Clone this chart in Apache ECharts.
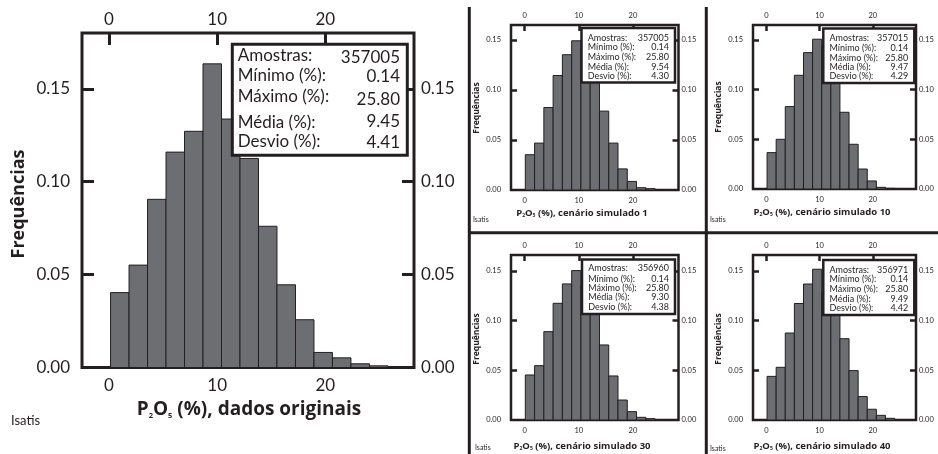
<!DOCTYPE html>
<html>
<head>
<meta charset="utf-8">
<script src="https://cdn.jsdelivr.net/npm/echarts@6/dist/echarts.min.js"></script>
<style>
html,body{margin:0;padding:0;background:#fff;}
#chart{width:938px;height:454px;}
</style>
</head>
<body>
<div id="chart"></div>
<script>
// ---------- DATA ----------
const binEdges = [0.14, 1.85, 3.56, 5.27, 6.98, 8.69, 10.40, 12.11, 13.82, 15.53, 17.24, 18.95, 20.66, 22.37, 24.09, 25.80];
const freqOriginal = [0.0403, 0.0551, 0.0905, 0.1159, 0.1271, 0.1634, 0.1337, 0.1125, 0.0760, 0.0445, 0.0257, 0.0081, 0.0052, 0.0020, 0.0009];
const freqSim1     = [0.0353, 0.0469, 0.0825, 0.1145, 0.1353, 0.1492, 0.1430, 0.1310, 0.0789, 0.0469, 0.0211, 0.0086, 0.0023, 0.0013, 0.0005];
const freqSim10    = [0.0366, 0.0500, 0.0829, 0.1144, 0.1372, 0.1507, 0.1440, 0.1310, 0.0772, 0.0450, 0.0201, 0.0081, 0.0017, 0.0007, 0.0003];
const freqSim30    = [0.0453, 0.0547, 0.0889, 0.1174, 0.1369, 0.1503, 0.1350, 0.1190, 0.0755, 0.0443, 0.0201, 0.0084, 0.0027, 0.0013, 0.0004];
const freqSim40    = [0.0439, 0.0530, 0.0875, 0.1172, 0.1368, 0.1517, 0.1280, 0.1100, 0.0818, 0.0497, 0.0236, 0.0108, 0.0047, 0.0017, 0.0003];
const xTickValues = [0, 10, 20];
const yLabelValues = [0, 0.05, 0.10, 0.15];
const yTickValues = [0.05, 0.10, 0.15];
const statLabels = ['Amostras:', 'Mínimo (%):', 'Máximo (%):', 'Média (%):', 'Desvio (%):'];
const statsOriginal = ['357005', '0.14', '25.80', '9.45', '4.41'];
const statsSim1     = ['357005', '0.14', '25.80', '9.54', '4.30'];
const statsSim10    = ['357015', '0.14', '25.80', '9.47', '4.29'];
const statsSim30    = ['356960', '0.14', '25.80', '9.30', '4.38'];
const statsSim40    = ['356971', '0.14', '25.80', '9.49', '4.42'];
const xTitleSuffixes = [' (%), dados originais', ' (%), cenário simulado 1', ' (%), cenário simulado 10', ' (%), cenário simulado 30', ' (%), cenário simulado 40'];
const yTitle = 'Frequências';
const footer = 'Isatis';

// ---------- LAYOUT ----------
const INK = '#231f20';
const BAR = '#6d6e71';
const FONT = 'Lato, "Open Sans", sans-serif';
const BOLDFONT = '"Open Sans", Lato, sans-serif';

const big = {fs:17, border:3, tick:12, mL:12, mR:7, mT:5, mB:10, boxFs:17, boxBorder:3, titleFs:19, subFs:7.5, freqFs:18, isFs:13};
const small = {fs:7.5, border:2.5, tick:6, mL:10, mR:3, mT:5, mB:7, boxFs:9, boxBorder:2.5, titleFs:9.5, subFs:5, freqFs:8.5, isFs:7};

const panels = [
  {freq:freqOriginal, stats:statsOriginal, s:big, grid:{left:82, top:33, width:332, height:334.5}, xMax:28.2, yMax:0.18,
   box:{x:232.3, y:44.3, w:175, h:111, lx:5.4, rx:7.3, ly:[11.5,31.7,52.7,78.2,97.7], vy:[13.7,32.2,55.2,77.4,98.2]},
   title:[249,410], isatis:[11,421], freqPos:[19,204]},
  {freq:freqSim1, stats:statsSim1, s:small, grid:{left:511, top:25, width:167.5, height:165}, xMax:28.4, yMax:0.165,
   box:{x:581.5, y:28, w:93.5, h:54.5, lx:6.2, rx:6, ly:[9.7,19.3,29.3,38.7,48], vy:[9.7,19.3,29.3,38.7,48]},
   title:[582,213], isatis:[473,220], freqPos:[477,108]},
  {freq:freqSim10, stats:statsSim10, s:small, grid:{left:753, top:25, width:163, height:164}, xMax:28.1, yMax:0.165,
   box:{x:823.3, y:28.5, w:91, h:54.5, lx:6.2, rx:6, ly:[9.7,19.3,29.3,38.7,48], vy:[9.7,19.3,29.3,38.7,48]},
   title:[822,212], isatis:[710,220], freqPos:[718.5,107]},
  {freq:freqSim30, stats:statsSim30, s:small, grid:{left:511, top:255, width:167.5, height:165}, xMax:28.4, yMax:0.166,
   box:{x:582, y:259.5, w:93, h:54.5, lx:6.2, rx:6, ly:[8.7,19.3,28.8,38,47.8], vy:[8.7,19.3,28.8,38,47.8]},
   title:[582,446], isatis:[475,448], freqPos:[477,339]},
  {freq:freqSim40, stats:statsSim40, s:small, grid:{left:753, top:255, width:163, height:165}, xMax:28.1, yMax:0.166,
   box:{x:823.3, y:260, w:91, h:55, lx:6.2, rx:6, ly:[9.7,19.3,29.3,38.7,48], vy:[9.7,19.3,29.3,38.7,48]},
   title:[822,446], isatis:[710,449], freqPos:[718.5,339]}
];

const grids = [], xAxes = [], yAxes = [], series = [], graphics = [];

function histData(freq){
  return freq.map((f, i) => [binEdges[i], binEdges[i+1], f]);
}

panels.forEach((p, i) => {
  const s = p.s;
  grids.push(Object.assign({show:true, borderColor:INK, borderWidth:s.border, backgroundColor:'transparent', containLabel:false}, p.grid));
  const lbl = {color:INK, fontSize:s.fs, fontFamily:FONT};
  const noLine = {show:false, onZero:false};
  // bottom x
  xAxes.push({gridIndex:i, type:'value', position:'bottom', min:-2.5, max:p.xMax,
    axisLine:noLine, splitLine:{show:false}, axisTick:{show:false},
    axisLabel:Object.assign({customValues:xTickValues, margin:s.mB, formatter:v=>String(v)}, lbl)});
  // top x
  xAxes.push({gridIndex:i, type:'value', position:'top', min:-2.5, max:p.xMax,
    axisLine:noLine, splitLine:{show:false},
    axisTick:{show:true, inside:true, length:s.tick, customValues:xTickValues, lineStyle:{color:INK, width:s.border}},
    axisLabel:Object.assign({customValues:xTickValues, margin:s.mT, formatter:v=>String(v)}, lbl)});
  // left y
  yAxes.push({gridIndex:i, type:'value', position:'left', min:0, max:p.yMax,
    axisLine:noLine, splitLine:{show:false},
    axisTick:{show:true, inside:true, length:s.tick, customValues:yTickValues, lineStyle:{color:INK, width:s.border}},
    axisLabel:Object.assign({customValues:yLabelValues, margin:s.mL, formatter:v=>v.toFixed(2)}, lbl)});
  // right y
  yAxes.push({gridIndex:i, type:'value', position:'right', min:0, max:p.yMax,
    axisLine:noLine, splitLine:{show:false},
    axisTick:{show:true, inside:true, length:s.tick, customValues:yTickValues, lineStyle:{color:INK, width:s.border}},
    axisLabel:Object.assign({customValues:yLabelValues, margin:s.mR, formatter:v=>v.toFixed(2)}, lbl)});

  series.push({
    type:'custom', xAxisIndex:2*i, yAxisIndex:2*i, silent:true, z:2,
    data:histData(p.freq),
    encode:{x:[0,1], y:2},
    renderItem:function(params, api){
      const p0 = api.coord([api.value(0), api.value(2)]);
      const p1 = api.coord([api.value(1), 0]);
      return {type:'rect', shape:{x:p0[0], y:p0[1], width:p1[0]-p0[0], height:p1[1]-p0[1]},
        style:{fill:BAR, stroke:INK, lineWidth:1}};
    }
  });

  // stats box
  const b = p.box;
  graphics.push({type:'rect', z:100, shape:{x:b.x, y:b.y, width:b.w, height:b.h},
    style:{fill:'#fff', stroke:INK, lineWidth:s.boxBorder}});
  statLabels.forEach((t, k) => {
    graphics.push({type:'text', z:101, x:b.x+b.lx, y:b.y+b.ly[k],
      style:{text:t, fill:INK, font:`${s.boxFs}px ${FONT}`, align:'left', verticalAlign:'middle'}});
    graphics.push({type:'text', z:101, x:b.x+b.w-b.rx, y:b.y+b.vy[k],
      style:{text:p.stats[k], fill:INK, font:`${s.boxFs}px ${FONT}`, align:'right', verticalAlign:'middle'}});
  });

  // x title with subscripts
  graphics.push({type:'text', z:101, x:p.title[0], y:p.title[1],
    style:{text:'{n|P}{s|2}{n|O}{s|5}{n|' + xTitleSuffixes[i] + '}', align:'center', verticalAlign:'middle',
      rich:{n:{fontSize:s.titleFs, fontWeight:'bold', fontFamily:BOLDFONT, fill:INK, color:INK},
            s:{fontSize:s.subFs, fontWeight:'bold', fontFamily:BOLDFONT, fill:INK, color:INK, verticalAlign:'bottom'}}}});
  // Isatis
  graphics.push({type:'text', z:101, x:p.isatis[0], y:p.isatis[1],
    style:{text:footer, fill:INK, font:`${s.isFs}px ${FONT}`, align:'left', verticalAlign:'middle'}});
  // Frequências
  graphics.push({type:'text', z:101, x:p.freqPos[0], y:p.freqPos[1], rotation:Math.PI/2,
    style:{text:yTitle, fill:INK, font:`bold ${s.freqFs}px ${BOLDFONT}`, align:'center', verticalAlign:'middle'}});
});

// panel separators
graphics.push({type:'line', z:50, shape:{x1:469.3, y1:7, x2:469.3, y2:454}, style:{stroke:INK, lineWidth:3}});
graphics.push({type:'line', z:50, shape:{x1:706.3, y1:7, x2:706.3, y2:454}, style:{stroke:INK, lineWidth:3}});
graphics.push({type:'line', z:50, shape:{x1:468, y1:232.7, x2:938, y2:232.7}, style:{stroke:INK, lineWidth:3}});

const chart = echarts.init(document.getElementById('chart'), null, {renderer:'canvas'});
chart.setOption({
  animation:false,
  backgroundColor:'#fff',
  grid:grids, xAxis:xAxes, yAxis:yAxes, series:series,
  graphic:{elements:graphics}
});
</script>
</body>
</html>
